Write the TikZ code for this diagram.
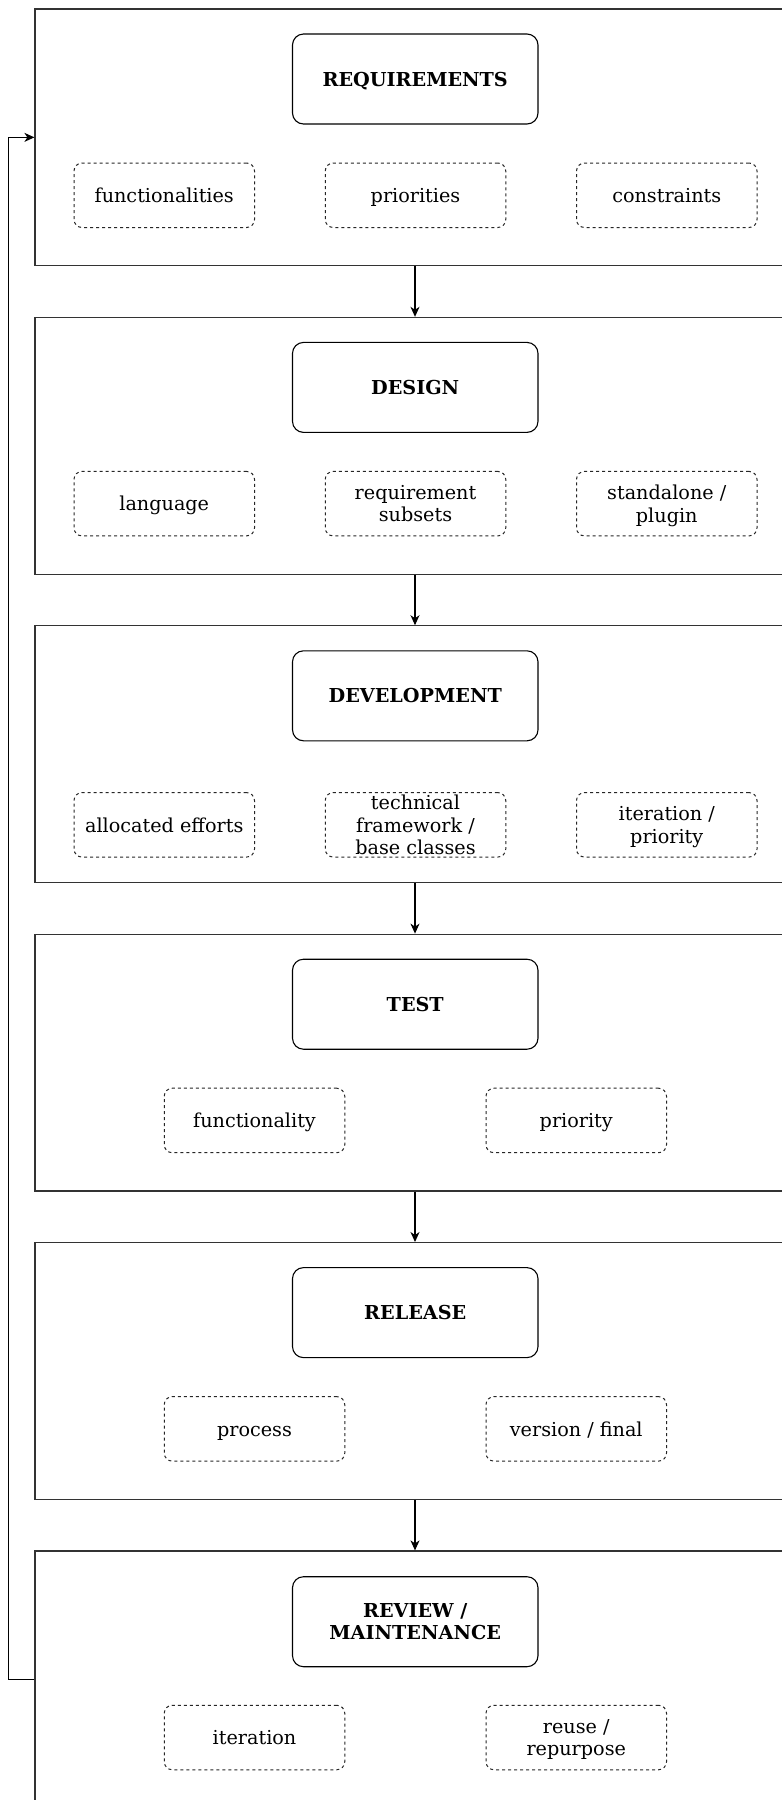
\documentclass[tikz,border=0pt]{standalone}
\usepackage{fontspec}
\setmainfont{DejaVu Serif}
\usetikzlibrary{arrows.meta}
\definecolor{edgegray}{HTML}{333333}

\tikzset{
  phase/.style={draw=edgegray,line width=1.2pt,minimum width=760pt,minimum height=256.7pt,inner sep=0pt},
  stage/.style={draw=black,line width=1.1pt,rounded corners=11pt,minimum width=245.5pt,minimum height=90pt,
    inner sep=2pt,align=center,font=\fontsize{19.2}{22.5}\selectfont\bfseries,text depth=0pt},
  aspect/.style={draw=black!85,line width=1pt,dash pattern=on 3pt off 3pt,rounded corners=8pt,
    minimum width=180.5pt,minimum height=64.5pt,inner sep=2pt,align=center,text depth=0pt},
  oneline/.style={text height=14.6pt},
  flow/.style={-{Stealth[length=10pt,width=9pt,inset=3pt]},line width=1.1pt}
}

\begin{document}
\begin{tikzpicture}[x=1pt,y=-1pt,font=\fontsize{19.2}{22.5}\selectfont]
  \clip (0,0) rectangle (782,1800);
  \fill[white] (0,0) rectangle (782,1800);

  % phase frames
  \node[phase] (sec1) at (415,137.35) {};
  \node[phase] (sec2) at (415,445.75) {};
  \node[phase] (sec3) at (415,754.15) {};
  \node[phase] (sec4) at (415,1062.55) {};
  \node[phase] (sec5) at (415,1370.95) {};
  \node[phase] (sec6) at (415,1679.35) {};

  % requirements
  \node[stage] (req) at (415.25,79) {REQUIREMENTS};
  \node[aspect,oneline] (req1) at (164.25,195.25) {functionalities};
  \node[aspect,oneline] (req2) at (415.5,195.25) {priorities};
  \node[aspect,oneline] (req3) at (666.75,195.25) {constraints};

  % design
  \node[stage] (des) at (415.25,387.4) {DESIGN};
  \node[aspect,oneline] (des1) at (164.25,503.65) {language};
  \node[aspect] (des2) at (415.5,503.65) {requirement\\subsets};
  \node[aspect] (des3) at (666.75,503.65) {standalone /\\plugin};

  % development
  \node[stage] (dev) at (415.25,695.8) {DEVELOPMENT};
  \node[aspect,oneline] (dev1) at (164.25,824.8) {allocated efforts};
  \node[aspect,inner sep=0pt] (dev2) at (415.5,824.8) {technical\\framework /\\base classes};
  \node[aspect] (dev3) at (666.75,824.8) {iteration /\\priority};

  % test
  \node[stage] (tst) at (415.25,1004.2) {TEST};
  \node[aspect,oneline] (tst1) at (254.5,1120.45) {functionality};
  \node[aspect,oneline] (tst2) at (576.25,1120.45) {priority};

  % release
  \node[stage] (rel) at (415.25,1312.6) {RELEASE};
  \node[aspect,oneline] (rel1) at (254.5,1428.85) {process};
  \node[aspect,oneline] (rel2) at (576.25,1428.85) {version / final};

  % review / maintenance
  \node[stage] (rev) at (415.25,1621.7) {REVIEW /\\MAINTENANCE};
  \node[aspect,oneline] (rev1) at (254.5,1737.5) {iteration};
  \node[aspect] (rev2) at (576.25,1737.5) {reuse /\\repurpose};

  % sequence
  \foreach \a/\b in {sec1/sec2,sec2/sec3,sec3/sec4,sec4/sec5,sec5/sec6}
    \draw[flow] (\a.south) -- (\b.north);

  % feedback loop
  \draw[flow] (sec6.west) -- ++(-26,0) |- (sec1.west);
\end{tikzpicture}
\end{document}
